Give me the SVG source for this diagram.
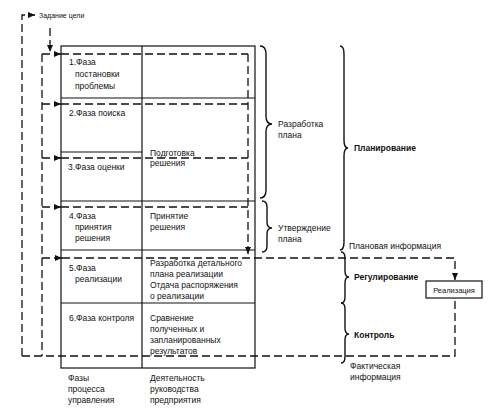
<svg xmlns="http://www.w3.org/2000/svg" width="494" height="411" viewBox="0 0 494 411">
<style>
text{font-family:"Liberation Sans","DejaVu Sans",sans-serif;font-size:8.5px;fill:#111}
.s{font-size:7px}
.r{font-size:7.5px}
.b{font-weight:bold}
.solid{fill:none;stroke:#111;stroke-width:1.2}
.dash{fill:none;stroke:#111;stroke-width:1.3;stroke-dasharray:8 4}
.br{fill:none;stroke:#111;stroke-width:1.4}
</style>
<defs>
<marker id="ah" markerWidth="8" markerHeight="8" refX="7" refY="4" orient="auto" markerUnits="userSpaceOnUse">
<path d="M0,1 L7,4 L0,7 Z" fill="#111"/>
</marker>
</defs>
<g id="table">
<rect class="solid" x="61" y="46" width="194" height="322"/>
<line class="solid" x1="142" y1="46" x2="142" y2="368"/>
<line class="solid" x1="61" y1="98" x2="255" y2="98"/>
<line class="solid" x1="61" y1="152" x2="142" y2="152"/>
<line class="solid" x1="61" y1="201" x2="255" y2="201"/>
<line class="solid" x1="61" y1="250" x2="255" y2="250"/>
<line class="solid" x1="61" y1="303" x2="255" y2="303"/>
</g>
<g id="connectors">
<path class="dash" d="M22,356 L22,15 L35,15" marker-end="url(#ah)"/>
<path class="dash" d="M50,28 L50,52" marker-end="url(#ah)"/>
<path class="dash" d="M42,54 L42,356"/>
<path class="dash" d="M22,356 L455,356 L455,298"/>
<path class="dash" d="M42,54 L61,54" marker-end="url(#ah)"/>
<path class="dash" d="M42,104 L61,104" marker-end="url(#ah)"/>
<path class="dash" d="M42,158 L61,158" marker-end="url(#ah)"/>
<path class="dash" d="M42,207 L61,207" marker-end="url(#ah)"/>
<path class="dash" d="M42,258 L62,258" marker-end="url(#ah)"/>
<path class="dash" d="M61,54 L248,54"/>
<path class="dash" d="M61,104 L248,104"/>
<path class="dash" d="M61,158 L248,158"/>
<path class="dash" d="M61,207 L248,207"/>
<path class="dash" d="M248,54 L248,254" marker-end="url(#ah)"/>
<path class="dash" d="M62,258 L455,258 L455,280" marker-end="url(#ah)"/>
</g>
<g id="braces">
<path class="br" d="M260,46 Q266,46 266,54 L266,116 Q266,124 272,124 Q266,124 266,132 L266,190 Q266,198 260,198"/>
<path class="br" d="M262,201 Q267,201 267,207 L267,222 Q267,228 272,228 Q267,228 267,234 L267,246 Q267,252 262,252"/>
<path class="br" d="M340,46 Q344,46 344,54 L344,140 Q344,148 348,148 Q344,148 344,156 L344,242 Q344,250 340,250"/>
<path class="br" d="M341,252 Q345,252 345,258 L345,271 Q345,277 349,277 Q345,277 345,283 L345,297 Q345,303 341,303"/>
<path class="br" d="M341,303 Q345,303 345,309 L345,328 Q345,334 349,334 Q345,334 345,340 L345,357 Q345,363 341,363"/>
</g>
<g id="goal"><text class="s" x="39" y="18">Задание цели</text></g>
<g id="row1"><text x="69" y="65">1.Фаза</text><text x="75" y="77">постановки</text><text x="75" y="89">проблемы</text></g>
<g id="row2"><text x="69" y="116">2.Фаза поиска</text></g>
<g id="row3"><text x="68" y="170">3.Фаза оценки</text><text x="150" y="156">Подготовка</text><text x="150" y="166">решения</text></g>
<g id="row4"><text x="69" y="219">4.Фаза</text><text x="75" y="230">принятия</text><text x="75" y="241">решения</text><text x="150" y="219">Принятие</text><text x="150" y="230">решения</text></g>
<g id="row5"><text x="69" y="271">5.Фаза</text><text x="75" y="282">реализации</text><text x="150" y="266">Разработка детального</text><text x="150" y="277">плана реализации</text><text x="150" y="288">Отдача распоряжения</text><text x="150" y="299">о реализации</text></g>
<g id="row6"><text x="69" y="321">6.Фаза контроля</text><text x="150" y="321">Сравнение</text><text x="150" y="332">полученных и</text><text x="150" y="343">запланированных</text><text x="150" y="354">результатов</text></g>
<g id="footer"><text x="68" y="381">Фазы</text><text x="68" y="392">процесса</text><text x="68" y="403">управления</text><text x="150" y="381">Деятельность</text><text x="150" y="392">руководства</text><text x="150" y="403">предприятия</text></g>
<g id="labels">
<text x="278" y="127">Разработка</text><text x="278" y="138">плана</text>
<text x="278" y="231">Утверждение</text><text x="278" y="242">плана</text>
<text class="b" x="354" y="151">Планирование</text>
<text x="349" y="249">Плановая информация</text>
<text class="b" x="354" y="280">Регулирование</text>
<text class="b" x="354" y="338">Контроль</text>
<text x="350" y="369">Фактическая</text><text x="350" y="380">информация</text>
</g>
<g id="realization">
<rect class="solid" x="426" y="281" width="56" height="17" fill="#fff"/>
<text class="r" x="454" y="292.5" text-anchor="middle">Реализация</text>
</g>
</svg>
